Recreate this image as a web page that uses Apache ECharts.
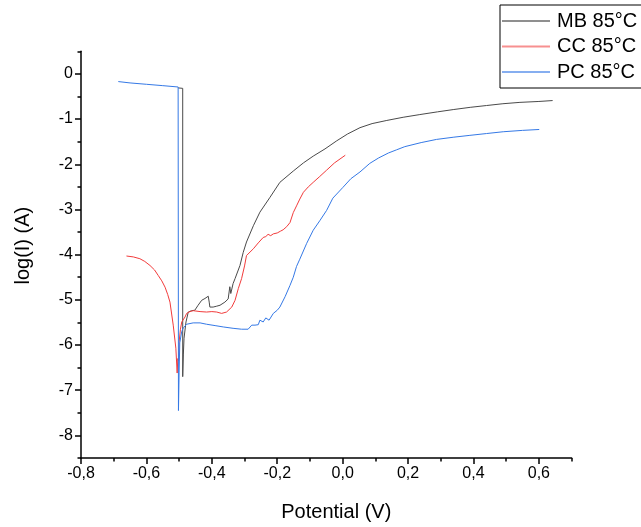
<!DOCTYPE html>
<html>
<head>
<meta charset="utf-8">
<title>Tafel polarization curves at 85 °C</title>
<script src="https://cdn.jsdelivr.net/npm/echarts@6/dist/echarts.min.js"></script>
<style>
  html, body { margin: 0; padding: 0; background: #fff; }
  #chart { width: 641px; height: 527px; }
</style>
</head>
<body>
<div id="chart"></div>
<script>
// Series names (legend)
const seriesNames = ['MB 85°C', 'CC 85°C', 'PC 85°C'];

// Polarization data: [potential (V), log(I) (A)]
const mbData = [
  [-0.503, -0.31], [-0.489, -0.32], [-0.489, -6.70], [-0.487, -6.20], [-0.485, -5.85],
  [-0.479, -5.49], [-0.472, -5.27], [-0.462, -5.24], [-0.452, -5.23], [-0.442, -5.12],
  [-0.431, -5.01], [-0.421, -4.97], [-0.411, -4.92], [-0.408, -5.05], [-0.406, -5.16],
  [-0.396, -5.16], [-0.385, -5.14], [-0.375, -5.12], [-0.360, -5.05], [-0.350, -4.98],
  [-0.347, -4.94], [-0.345, -4.71], [-0.342, -4.86], [-0.335, -4.64], [-0.329, -4.53],
  [-0.314, -4.24], [-0.304, -3.95], [-0.294, -3.72], [-0.273, -3.36], [-0.253, -3.06],
  [-0.222, -2.73], [-0.192, -2.40], [-0.151, -2.15], [-0.120, -1.97], [-0.090, -1.82],
  [-0.054, -1.66], [-0.018, -1.48], [0.015, -1.33], [0.053, -1.19], [0.090, -1.10],
  [0.135, -1.03], [0.185, -0.96], [0.236, -0.90], [0.290, -0.84], [0.338, -0.79],
  [0.390, -0.74], [0.440, -0.70], [0.490, -0.66], [0.542, -0.63], [0.600, -0.61],
  [0.642, -0.59]
];

const ccData = [
  [-0.661, -4.03], [-0.640, -4.05], [-0.620, -4.09], [-0.605, -4.15], [-0.589, -4.24],
  [-0.575, -4.34], [-0.564, -4.46], [-0.553, -4.58], [-0.543, -4.72], [-0.535, -4.88],
  [-0.528, -5.05], [-0.518, -5.56], [-0.510, -6.07], [-0.506, -6.62], [-0.504, -6.30],
  [-0.502, -6.35], [-0.500, -5.93], [-0.496, -5.65], [-0.492, -5.49], [-0.482, -5.38],
  [-0.477, -5.30], [-0.467, -5.26], [-0.457, -5.24], [-0.436, -5.26], [-0.416, -5.27],
  [-0.400, -5.26], [-0.385, -5.27], [-0.370, -5.30], [-0.355, -5.27], [-0.339, -5.16],
  [-0.329, -5.01], [-0.319, -4.75], [-0.309, -4.53], [-0.300, -4.25], [-0.294, -4.02],
  [-0.273, -3.87], [-0.258, -3.74], [-0.243, -3.62], [-0.235, -3.60], [-0.228, -3.55],
  [-0.220, -3.58], [-0.212, -3.54], [-0.200, -3.52], [-0.190, -3.48], [-0.182, -3.45],
  [-0.171, -3.38], [-0.161, -3.29], [-0.151, -3.07], [-0.141, -2.92], [-0.131, -2.77],
  [-0.120, -2.62], [-0.105, -2.50], [-0.090, -2.40], [-0.070, -2.27], [-0.049, -2.13],
  [-0.025, -1.97], [0.008, -1.80]
];

const pcData = [
  [-0.686, -0.17], [-0.650, -0.20], [-0.600, -0.23], [-0.550, -0.26], [-0.503, -0.29],
  [-0.502, -7.45], [-0.500, -6.60], [-0.498, -5.95], [-0.492, -5.70], [-0.487, -5.62],
  [-0.477, -5.54], [-0.457, -5.51], [-0.436, -5.51], [-0.416, -5.54], [-0.390, -5.57],
  [-0.365, -5.60], [-0.335, -5.63], [-0.309, -5.65], [-0.289, -5.65], [-0.278, -5.56],
  [-0.274, -5.60], [-0.268, -5.56], [-0.262, -5.52], [-0.258, -5.55], [-0.253, -5.45],
  [-0.243, -5.49], [-0.235, -5.40], [-0.231, -5.38], [-0.225, -5.45], [-0.220, -5.43],
  [-0.212, -5.30], [-0.207, -5.27], [-0.200, -5.23], [-0.192, -5.16], [-0.176, -4.93],
  [-0.161, -4.68], [-0.151, -4.50], [-0.141, -4.26], [-0.131, -4.10], [-0.110, -3.75],
  [-0.090, -3.46], [-0.070, -3.25], [-0.049, -3.02], [-0.030, -2.75], [0.001, -2.51],
  [0.025, -2.32], [0.053, -2.17], [0.083, -1.98], [0.110, -1.86], [0.140, -1.75],
  [0.165, -1.68], [0.190, -1.61], [0.240, -1.52], [0.287, -1.45], [0.340, -1.40],
  [0.389, -1.36], [0.440, -1.32], [0.491, -1.28], [0.550, -1.25], [0.601, -1.23]
];

// Axis ticks
const xMajorTicks = [-0.8, -0.6, -0.4, -0.2, 0.0, 0.2, 0.4, 0.6];
const xMinorTicks = [-0.7, -0.5, -0.3, -0.1, 0.1, 0.3, 0.5, 0.7];
const yMajorTicks = [-8, -7, -6, -5, -4, -3, -2, -1, 0];
const yMinorTicks = [-8.5, -7.5, -6.5, -5.5, -4.5, -3.5, -2.5, -1.5, -0.5, 0.5];

// Plot line colours and the softer swatch colours used in the legend
const colors = ['#4a4a4a', '#f23b3b', '#3579e6'];
const legendColors = ['#8f8f8f', '#f79090', '#86aef0'];
const FONT = 'Liberation Sans, Arial, sans-serif';

const chart = echarts.init(document.getElementById('chart'), null, { renderer: 'canvas' });

const axisLineStyle = { color: '#000', width: 1.5 };

const option = {
  animation: false,
  backgroundColor: '#fff',
  grid: { left: 81, right: 69.4, top: 51.3, bottom: 66.7, containLabel: false },
  legend: {
    orient: 'vertical',
    left: 500,
    top: 5,
    padding: [6, 12, 6, 2],
    itemGap: 5.5,
    itemWidth: 48,
    itemHeight: 2,
    icon: 'rect',
    borderColor: '#000',
    borderWidth: 1,
    borderRadius: 0,
    textStyle: { fontFamily: FONT, fontSize: 20, color: '#000', padding: [0, 0, 0, 2] },
    data: seriesNames.map((name, i) => ({ name, itemStyle: { color: legendColors[i] } }))
  },
  xAxis: [
    {
      type: 'value',
      min: -0.8,
      max: 0.7,
      interval: 0.2,
      position: 'bottom',
      name: 'Potential (V)',
      nameLocation: 'middle',
      nameGap: 44,
      nameTextStyle: { fontFamily: FONT, fontSize: 20, color: '#000', padding: [0, 0, 0, 20] },
      axisLine: { show: true, onZero: false, lineStyle: axisLineStyle },
      axisTick: { show: true, length: 6, customValues: xMajorTicks, lineStyle: axisLineStyle },
      axisLabel: {
        customValues: xMajorTicks,
        fontFamily: FONT, fontSize: 16, color: '#000', margin: 8,
        formatter: v => v.toFixed(1).replace('.', ',')
      },
      splitLine: { show: false }
    },
    {
      type: 'value',
      min: -0.8,
      max: 0.7,
      position: 'bottom',
      axisLine: { show: false, onZero: false },
      axisTick: { show: true, length: 3.5, customValues: xMinorTicks, lineStyle: axisLineStyle },
      axisLabel: { show: false },
      splitLine: { show: false }
    }
  ],
  yAxis: [
    {
      type: 'value',
      min: -8.5,
      max: 0.5,
      position: 'left',
      name: 'log(I) (A)',
      nameLocation: 'middle',
      nameGap: 48,
      nameTextStyle: { fontFamily: FONT, fontSize: 20, color: '#000', padding: [0, 0, 0, 18] },
      axisLine: { show: true, onZero: false, lineStyle: axisLineStyle },
      axisTick: { show: true, length: 6, customValues: yMajorTicks, lineStyle: axisLineStyle },
      axisLabel: {
        customValues: yMajorTicks,
        fontFamily: FONT, fontSize: 16, color: '#000', margin: 8
      },
      splitLine: { show: false }
    },
    {
      type: 'value',
      min: -8.5,
      max: 0.5,
      position: 'left',
      axisLine: { show: false, onZero: false },
      axisTick: { show: true, length: 3.5, customValues: yMinorTicks, lineStyle: axisLineStyle },
      axisLabel: { show: false },
      splitLine: { show: false }
    }
  ],
  series: [
    { name: seriesNames[0], data: mbData, color: colors[0] },
    { name: seriesNames[1], data: ccData, color: colors[1] },
    { name: seriesNames[2], data: pcData, color: colors[2] }
  ].map(s => ({
    type: 'line',
    name: s.name,
    data: s.data,
    xAxisIndex: 0,
    yAxisIndex: 0,
    showSymbol: false,
    symbol: 'none',
    smooth: false,
    itemStyle: { color: s.color },
    lineStyle: { color: s.color, width: 1 }
  }))
};

chart.setOption(option);
</script>
</body>
</html>
